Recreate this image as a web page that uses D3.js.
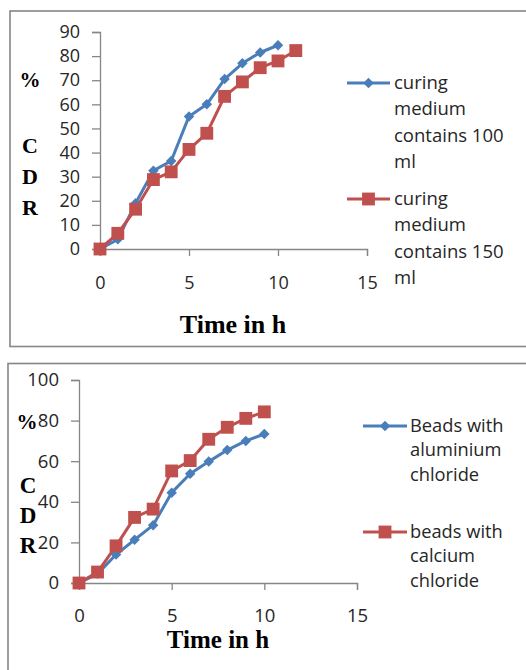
<!DOCTYPE html>
<html>
<head>
<meta charset="utf-8">
<script src="https://cdn.jsdelivr.net/npm/d3@7"></script>
<style>
  body { margin: 0; background: #fff; }
  svg { display: block; }
  .tick text { font-family: "Open Sans", sans-serif; fill: #262626; }
  .lab { font-family: "Liberation Serif", serif; font-weight: bold; fill: #000; }
  .leg { font-family: "Open Sans", sans-serif; fill: #262626; }
</style>
</head>
<body>
<div id="chart"></div>
<script>
const width = 526;
const height = 670;

// time points (h)
const hours = [0, 1, 2, 3, 4, 5, 6, 7, 8, 9, 10, 11];

// chart 1: curing medium volume
const cure100 = [0, 4, 19, 32.5, 36.5, 55, 60, 70.5, 77, 81.5, 84.5];
const cure150 = [0, 6.5, 16.5, 28.8, 32, 41.3, 48, 63.3, 69.3, 75.2, 78, 82.3];
const cureNames = [["curing", "medium", "contains 100", "ml"], ["curing", "medium", "contains 150", "ml"]];
const cureYTicks = [0, 10, 20, 30, 40, 50, 60, 70, 80, 90];

// chart 2: cross-linking agent
const alCl = [0, 4.5, 14, 21.3, 28.5, 44.5, 53.8, 59.8, 65.5, 70, 73.4];
const caCl = [0, 5.4, 18.3, 32.3, 36.4, 55.2, 60.3, 70.8, 76.7, 81.1, 84.3];
const beadNames = [["Beads with", "aluminium", "chloride"], ["beads with", "calcium", "chloride"]];
const beadYTicks = [0, 20, 40, 60, 80, 100];

const xTicks = [0, 5, 10, 15];

const blue = "#4A7EBB";
const red = "#C0504D";
const gridGray = "#868686";

const svg = d3.select("#chart")
    .append("svg")
    .attr("width", width)
    .attr("height", height);

// frames
svg.append("rect")
    .attr("x", 10).attr("y", 11)
    .attr("width", 530).attr("height", 335.5)
    .attr("fill", "none").attr("stroke", gridGray).attr("stroke-width", 1.6);
svg.append("rect")
    .attr("x", 8).attr("y", 363.5)
    .attr("width", 530).attr("height", 320)
    .attr("fill", "none").attr("stroke", gridGray).attr("stroke-width", 1.6);

function drawChart(cfg) {
    const x = d3.scaleLinear().domain([0, 15]).range([cfg.x0, cfg.x15]);
    const y = d3.scaleLinear().domain([0, cfg.yMax]).range([cfg.y0, cfg.yTop]);
    const g = svg.append("g");

    const yAxis = g.append("g")
        .attr("transform", `translate(${cfg.x0},0)`)
        .call(d3.axisLeft(y).tickValues(cfg.yTicks).tickSize(8).tickPadding(12));
    yAxis.selectAll("text").style("font-size", cfg.tickFont + "px");

    const xAxis = g.append("g")
        .attr("transform", `translate(0,${cfg.y0})`)
        .call(d3.axisBottom(x).tickValues(xTicks).tickSize(7).tickPadding(0));
    xAxis.selectAll("text")
        .style("font-size", cfg.tickFont + "px")
        .attr("y", cfg.xLabY).attr("dy", "0.36em");

    [yAxis, xAxis].forEach(a => {
        a.select(".domain").attr("stroke", gridGray).attr("stroke-width", 1.3);
        a.selectAll(".tick line").attr("stroke", gridGray).attr("stroke-width", 1.3);
    });

    const line = d3.line()
        .x((d, i) => x(hours[i]))
        .y(d => y(d));

    const sym = [d3.symbol().type(d3.symbolDiamond2).size(70),
                 d3.symbol().type(d3.symbolSquare2).size(210)];

    cfg.series.forEach((s, k) => {
        g.append("path")
            .datum(s)
            .attr("d", line)
            .attr("fill", "none")
            .attr("stroke", cfg.colors[k])
            .attr("stroke-width", 3)
            .attr("stroke-linejoin", "round");
    });
    cfg.series.forEach((s, k) => {
        g.selectAll(null)
            .data(s)
            .enter().append("path")
            .attr("transform", (d, i) => `translate(${x(hours[i])},${y(d)})`)
            .attr("d", sym[k]())
            .attr("fill", cfg.colors[k]);
    });

    // axis titles
    g.append("text").attr("class", "lab")
        .attr("x", cfg.pct[0]).attr("y", cfg.pct[1]).attr("dy", "0.35em")
        .attr("text-anchor", "middle")
        .style("font-size", "21px").text("%");
    ["C", "D", "R"].forEach((c, i) => {
        g.append("text").attr("class", "lab")
            .attr("x", cfg.cdr[0]).attr("y", cfg.cdr[1] + i * cfg.cdr[2]).attr("dy", "0.35em")
            .attr("text-anchor", "middle")
            .style("font-size", cfg.cdrFont + "px").text(c);
    });
    g.append("text").attr("class", "lab")
        .attr("x", cfg.time[0]).attr("y", cfg.time[1]).attr("dy", "0.35em")
        .attr("text-anchor", "middle")
        .style("font-size", cfg.timeFont + "px").text("Time in h");

    // legend
    cfg.names.forEach((lines, k) => {
        const ly = cfg.leg.y[k];
        g.append("line")
            .attr("x1", cfg.leg.x1).attr("x2", cfg.leg.x2)
            .attr("y1", ly).attr("y2", ly)
            .attr("stroke", cfg.colors[k]).attr("stroke-width", 3);
        g.append("path")
            .attr("transform", `translate(${(cfg.leg.x1 + cfg.leg.x2) / 2},${ly})`)
            .attr("d", sym[k]())
            .attr("fill", cfg.colors[k]);
        lines.forEach((t, j) => {
            g.append("text").attr("class", "leg")
                .attr("x", cfg.leg.tx).attr("y", ly + j * cfg.leg.gap).attr("dy", "0.32em")
                .style("font-size", cfg.legFont + "px").text(t);
        });
    });
}

drawChart({
    x0: 100, x15: 367, y0: 249, yTop: 32, yMax: 90,
    yTicks: cureYTicks, tickFont: 18, xLabY: 34,
    series: [cure100, cure150], colors: [blue, red], names: cureNames,
    pct: [30, 80], cdr: [30, 145, 31], cdrFont: 22, time: [233, 324], timeFont: 26,
    leg: { x1: 347, x2: 390, tx: 394, y: [83, 199], gap: 26.3 }, legFont: 18.5
});

drawChart({
    x0: 79, x15: 357, y0: 583, yTop: 380, yMax: 100,
    yTicks: beadYTicks, tickFont: 18.5, xLabY: 32,
    series: [alCl, caCl], colors: [blue, red], names: beadNames,
    pct: [27, 422], cdr: [28, 485, 30], cdrFont: 23, time: [218, 639], timeFont: 25,
    leg: { x1: 363, x2: 407, tx: 410, y: [426, 532], gap: 24.5 }, legFont: 18.3
});
</script>
</body>
</html>
